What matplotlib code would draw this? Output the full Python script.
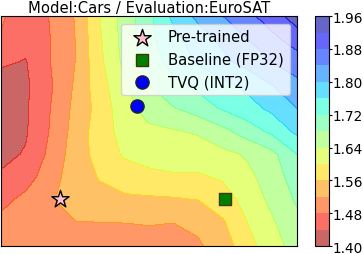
import numpy
import matplotlib
matplotlib.use('Agg')
import matplotlib.pyplot as plt

####################################################
##                Data
####################################################

# grid of the loss surface, read row by row from the top of the picture
x_grid = numpy.linspace(-0.355, 1.434, 13)
y_grid = numpy.linspace(1.102, -0.283, 11)

loss_rows = [
    [1.486, 1.455, 1.482, 1.522, 1.600, 1.655, 1.710, 1.770, 1.810, 1.840, 1.870, 1.900, 1.940],
    [1.476, 1.450, 1.480, 1.520, 1.595, 1.655, 1.710, 1.750, 1.780, 1.810, 1.840, 1.870, 1.900],
    [1.445, 1.438, 1.480, 1.520, 1.590, 1.650, 1.700, 1.735, 1.765, 1.790, 1.815, 1.840, 1.860],
    [1.425, 1.433, 1.475, 1.525, 1.585, 1.630, 1.680, 1.710, 1.730, 1.750, 1.770, 1.800, 1.830],
    [1.420, 1.435, 1.480, 1.530, 1.575, 1.625, 1.660, 1.678, 1.700, 1.725, 1.745, 1.770, 1.800],
    [1.425, 1.436, 1.483, 1.535, 1.580, 1.615, 1.630, 1.637, 1.645, 1.670, 1.700, 1.730, 1.770],
    [1.430, 1.443, 1.490, 1.540, 1.575, 1.605, 1.615, 1.620, 1.620, 1.630, 1.645, 1.670, 1.720],
    [1.445, 1.465, 1.500, 1.545, 1.562, 1.580, 1.590, 1.595, 1.595, 1.605, 1.630, 1.660, 1.700],
    [1.470, 1.490, 1.515, 1.540, 1.550, 1.552, 1.553, 1.555, 1.560, 1.580, 1.615, 1.650, 1.685],
    [1.490, 1.495, 1.505, 1.518, 1.519, 1.520, 1.521, 1.520, 1.528, 1.555, 1.600, 1.635, 1.670],
    [1.495, 1.500, 1.505, 1.505, 1.508, 1.510, 1.512, 1.515, 1.515, 1.540, 1.585, 1.625, 1.655],
]

# model positions in the plane
point_names = ['Pre-trained', 'Baseline (FP32)', 'TVQ (INT2)']
point_x = [0.0, 1.0, 0.464]
point_y = [0.0, 0.0, 0.560]

cbar_ticks = [1.40, 1.48, 1.56, 1.64, 1.72, 1.80, 1.88, 1.96]

####################################################
##                Plot
####################################################

fig = plt.figure(figsize=(3.63, 2.55), dpi=100)
ax = fig.add_axes([0.003, 0.031, 0.815, 0.902])
cax = fig.add_axes([0.8678, 0.031, 0.0386, 0.902])

X, Y = numpy.meshgrid(x_grid, y_grid)
Z = numpy.array(loss_rows)
levels = numpy.linspace(1.40, 1.96, 15)

cs = ax.contourf(X, Y, Z, levels=levels, cmap='jet_r', alpha=0.6)

ax.scatter(point_x[0], point_y[0], marker='*', s=170, color='pink',
           edgecolors='black', linewidths=1, label=point_names[0], zorder=3)
ax.scatter(point_x[1], point_y[1], marker='s', s=85, color='green',
           edgecolors='#3a3a00', linewidths=1, label=point_names[1], zorder=3)
ax.scatter(point_x[2], point_y[2], marker='o', s=90, color='blue',
           edgecolors='#222222', linewidths=1, label=point_names[2], zorder=3)

ax.set_xticks([])
ax.set_yticks([])
ax.set_xlim(x_grid[0], x_grid[-1])
ax.set_ylim(y_grid[-1], y_grid[0])
ax.set_title('Model:Cars / Evaluation:EuroSAT', fontsize=10.6, pad=3)
ax.legend(loc='upper right', fontsize=10.7, handletextpad=0.75,
          borderaxespad=0.5)

cb = fig.colorbar(cs, cax=cax, ticks=cbar_ticks)
cb.ax.tick_params(labelsize=9.8, length=2, pad=0.5)
cb.ax.set_yticklabels(['%.2f' % t for t in cbar_ticks])

plt.savefig('out.png', dpi=100)
plt.close()
